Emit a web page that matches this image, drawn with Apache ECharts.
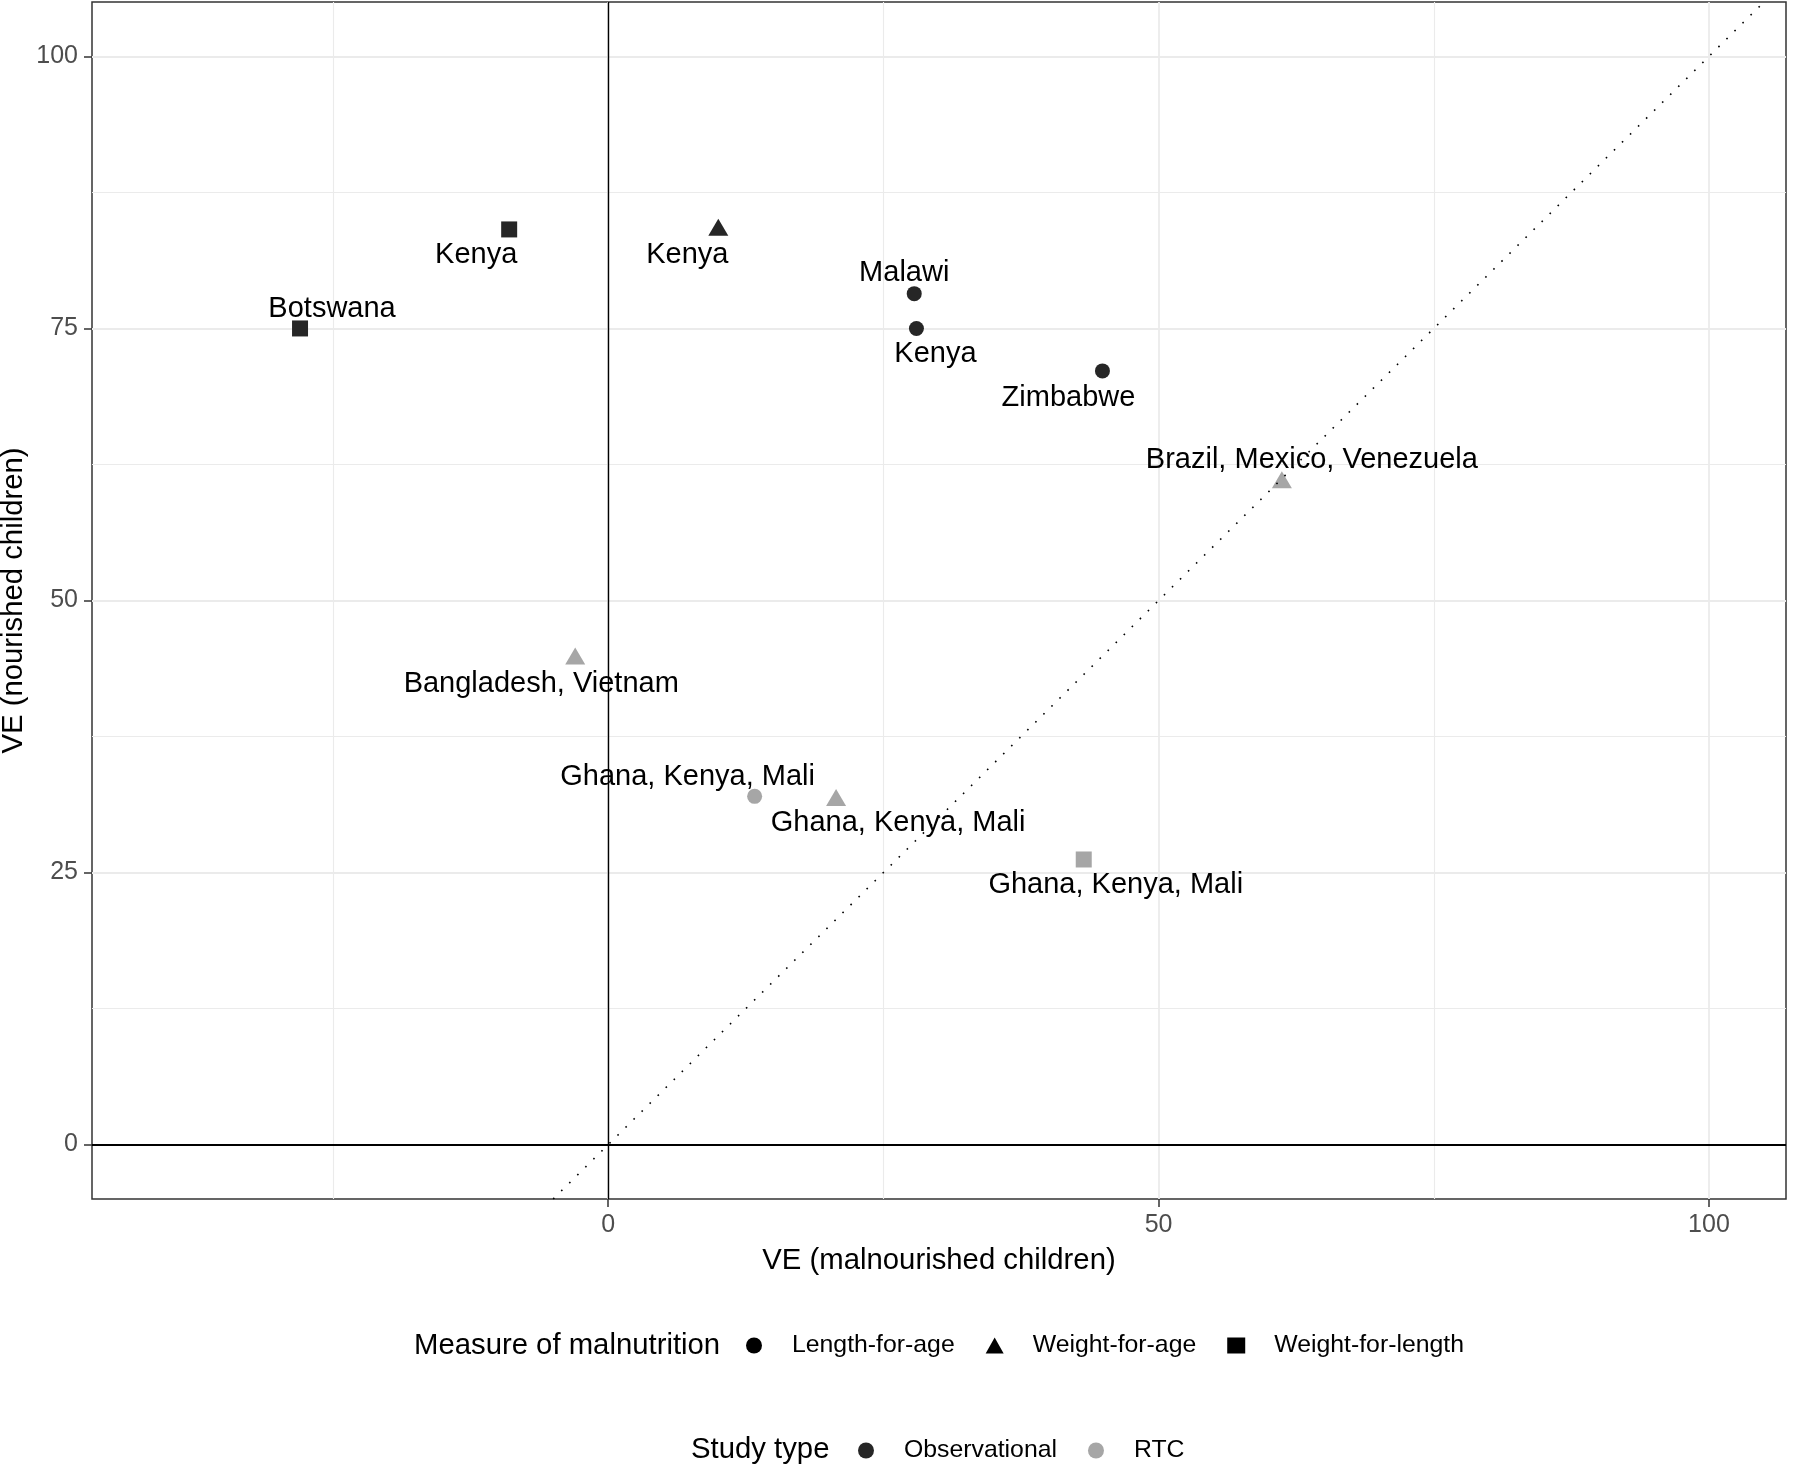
<!DOCTYPE html>
<html>
<head>
<meta charset="utf-8">
<script src="https://cdn.jsdelivr.net/npm/echarts@6/dist/echarts.min.js"></script>
<style>html,body{margin:0;padding:0;background:#fff}#chart{width:1800px;height:1472px}</style>
</head>
<body>
<div id="chart"></div>
<script>
// ---------------- data ----------------
const countries = ['Botswana', 'Kenya', 'Kenya', 'Malawi', 'Kenya', 'Zimbabwe',
  'Brazil, Mexico, Venezuela', 'Bangladesh, Vietnam', 'Ghana, Kenya, Mali', 'Ghana, Kenya, Mali', 'Ghana, Kenya, Mali'];
const veMalnourished = [-28.0, -9.0, 10.0, 27.8, 28.0, 44.9, 61.2, -3.0, 13.3, 20.7, 43.2];
const veNourished = [75.0, 84.1, 84.3, 78.2, 75.0, 71.1, 61.1, 44.9, 32.0, 31.9, 26.2];
const measureOfMalnutrition = ['Weight-for-length', 'Weight-for-length', 'Weight-for-age', 'Length-for-age', 'Length-for-age', 'Length-for-age',
  'Weight-for-age', 'Weight-for-age', 'Length-for-age', 'Weight-for-age', 'Weight-for-length'];
const studyType = ['Observational', 'Observational', 'Observational', 'Observational', 'Observational', 'Observational',
  'RTC', 'RTC', 'RTC', 'RTC', 'RTC'];
const measureLevels = ['Length-for-age', 'Weight-for-age', 'Weight-for-length'];
const studyLevels = ['Observational', 'RTC'];
const xTicks = [0, 50, 100];
const xMinorGrid = [-25, 25, 75];
const yTicks = [0, 25, 50, 75, 100];
const yMinorGrid = [12.5, 37.5, 62.5, 87.5];
const X_RANGE = [-46.9, 107];
const Y_RANGE = [-5, 105];

// ---------------- styles ----------------
const FONT = '"Liberation Sans", Arial, sans-serif';
const shapeOf = { 'Length-for-age': 'circle', 'Weight-for-age': 'triangle', 'Weight-for-length': 'rect' };
const sizeOf = { circle: 15, triangle: [20, 17], rect: 16 };
const colorOf = { 'Observational': '#262626', 'RTC': '#a6a6a6' };
const labelNudge = [[32, -19], [-33, 25.5], [-31, 27.5], [-10, -21], [19, 26], [-34, 27], [30, -19.5], [-34, 28.5], [-67, -19], [62, 26], [32, 26]];

const pointData = countries.map((c, i) => {
  const sym = shapeOf[measureOfMalnutrition[i]];
  return {
    name: c,
    value: [veMalnourished[i], veNourished[i]],
    symbol: sym,
    symbolSize: sizeOf[sym],
    itemStyle: { color: colorOf[studyType[i]], opacity: 1 },
    label: { offset: labelNudge[i] }
  };
});

const chart = echarts.init(document.getElementById('chart'), null, { renderer: 'canvas' });

const axisCommon = {
  type: 'value',
  axisLine: { show: false, onZero: false },
};

const option = {
  animation: false,
  backgroundColor: '#ffffff',
  grid: {
    left: 92, right: 14, top: 2, bottom: 273,
    containLabel: false, outerBoundsMode: 'none',
    show: true, borderColor: '#333333', borderWidth: 1.5, backgroundColor: 'transparent'
  },
  xAxis: [
    Object.assign({}, axisCommon, {
      min: X_RANGE[0], max: X_RANGE[1], position: 'bottom',
      axisTick: { show: true, customValues: xTicks, length: 8, lineStyle: { color: '#333333', width: 1.5 } },
      axisLabel: { customValues: xTicks, color: '#4d4d4d', fontSize: 25, margin: 14, fontFamily: FONT },
      splitLine: { show: true, lineStyle: { color: '#ebebeb', width: 1.8 } },
      name: 'VE (malnourished children)', nameLocation: 'middle', nameGap: 47, nameMoveOverlap: false,
      nameTextStyle: { fontSize: 29.3, color: '#000', fontFamily: FONT }
    }),
    Object.assign({}, axisCommon, {
      min: X_RANGE[0], max: X_RANGE[1], position: 'top',
      axisTick: { show: false, customValues: xMinorGrid },
      axisLabel: { show: false, customValues: xMinorGrid },
      splitLine: { show: true, lineStyle: { color: '#ebebeb', width: 1.1 } }
    })
  ],
  yAxis: [
    Object.assign({}, axisCommon, {
      min: Y_RANGE[0], max: Y_RANGE[1], position: 'left',
      axisTick: { show: true, customValues: yTicks, length: 8, lineStyle: { color: '#333333', width: 1.5 } },
      axisLabel: { customValues: yTicks, color: '#4d4d4d', fontSize: 25, margin: 14, fontFamily: FONT },
      splitLine: { show: true, lineStyle: { color: '#ebebeb', width: 1.8 } },
      name: 'VE (nourished children)', nameLocation: 'middle', nameGap: 64, nameRotate: 90, nameMoveOverlap: false,
      nameTextStyle: { fontSize: 29.3, color: '#000', fontFamily: FONT }
    }),
    Object.assign({}, axisCommon, {
      min: Y_RANGE[0], max: Y_RANGE[1], position: 'right',
      axisTick: { show: false, customValues: yMinorGrid },
      axisLabel: { show: false, customValues: yMinorGrid },
      splitLine: { show: true, lineStyle: { color: '#ebebeb', width: 1.1 } }
    })
  ],
  legend: [
    {
      data: measureLevels.map(m => ({ name: m, icon: shapeOf[m], itemStyle: { color: '#000', opacity: 1 } })),
      left: 746, top: 1333, orient: 'horizontal', padding: 0,
      itemWidth: 18, itemHeight: 16, itemGap: 31, selectedMode: false,
      textStyle: { fontSize: 24.8, color: '#000', fontFamily: FONT, padding: [0, 0, 0, 24] }
    },
    {
      data: studyLevels.map(s => ({ name: s, icon: 'circle', itemStyle: { color: colorOf[s], opacity: 1 } })),
      left: 858, top: 1438, orient: 'horizontal', padding: 0,
      itemWidth: 18, itemHeight: 16, itemGap: 31, selectedMode: false,
      textStyle: { fontSize: 24.8, color: '#000', fontFamily: FONT, padding: [0, 0, 0, 24] }
    }
  ],
  graphic: [
    { type: 'text', x: 414, y: 1346, silent: true,
      style: { text: 'Measure of malnutrition', fontSize: 29.3, fontFamily: FONT, fill: '#000', verticalAlign: 'middle', textVerticalAlign: 'middle' } },
    { type: 'text', x: 691, y: 1450, silent: true,
      style: { text: 'Study type', fontSize: 29.3, fontFamily: FONT, fill: '#000', verticalAlign: 'middle', textVerticalAlign: 'middle' } }
  ],
  series: [
    {
      type: 'scatter', name: 'reference-lines', data: [], silent: true, z: 1,
      markLine: {
        silent: true, symbol: ['none', 'none'], animation: false,
        label: { show: false },
        data: [
          { xAxis: 0, lineStyle: { color: '#000', width: 1.4, type: 'solid', opacity: 1 } },
          { yAxis: 0, lineStyle: { color: '#000', width: 2, type: 'solid', opacity: 1 } },
          [
            { coord: [Y_RANGE[0], Y_RANGE[0]], lineStyle: { color: '#000', width: 1.6, type: [1.6, 9.7], opacity: 1 } },
            { coord: [Y_RANGE[1], Y_RANGE[1]] }
          ]
        ]
      }
    },
    ...measureLevels.map(m => ({ type: 'scatter', name: m, data: [] })),
    ...studyLevels.map(s => ({ type: 'scatter', name: s, data: [] })),
    {
      type: 'scatter', name: 'studies', z: 3,
      data: pointData,
      itemStyle: { opacity: 1 },
      label: {
        show: true, position: 'inside', formatter: '{b}',
        fontSize: 29, color: '#000', fontFamily: FONT,
        textBorderWidth: 0, align: 'center', verticalAlign: 'middle'
      },
      emphasis: { disabled: true }
    }
  ]
};

chart.setOption(option);
</script>
</body>
</html>
